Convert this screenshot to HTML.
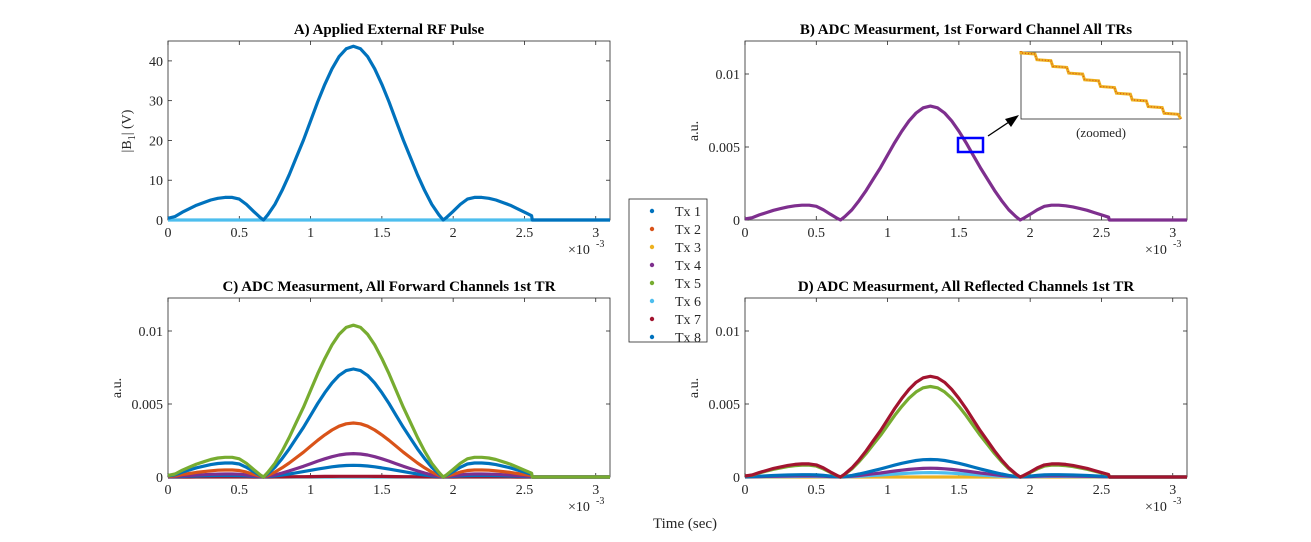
<!DOCTYPE html>
<html><head><meta charset="utf-8">
<style>
html,body{margin:0;padding:0;background:#fff;}
svg{display:block;font-family:"Liberation Serif",serif;}
</style></head>
<body>
<svg id="fig" width="1311" height="542" viewBox="0 0 1311 542" xmlns="http://www.w3.org/2000/svg"></svg>
<script>
// Pulse envelope sample times (ms) and normalized magnitude
const times = [0,0.05,0.1,0.15,0.2,0.25,0.3,0.35,0.4,0.45,0.5,0.55,0.6,0.65,0.67,0.7,0.75,0.8,0.85,0.9,0.95,1.0,1.05,1.1,1.15,1.2,1.25,1.3,1.35,1.4,1.45,1.5,1.55,1.6,1.65,1.7,1.75,1.8,1.85,1.9,1.93,1.95,2.0,2.05,2.1,2.15,2.2,2.25,2.3,2.35,2.4,2.45,2.5,2.55,2.555,3.1];
const shape = [0.01,0.02,0.045,0.065,0.085,0.10,0.115,0.125,0.13,0.13,0.12,0.09,0.05,0.012,0,0.03,0.09,0.17,0.26,0.36,0.46,0.57,0.68,0.78,0.87,0.94,0.985,1.0,0.985,0.94,0.87,0.78,0.68,0.57,0.46,0.36,0.26,0.17,0.09,0.03,0,0.012,0.05,0.09,0.12,0.13,0.13,0.125,0.115,0.10,0.085,0.065,0.045,0.025,0,0];
const colors = ["#0072BD","#D95319","#EDB120","#7E2F8E","#77AC30","#4DBEEE","#A2142F","#0072BD"];
const legendLabels = ["Tx 1","Tx 2","Tx 3","Tx 4","Tx 5","Tx 6","Tx 7","Tx 8"];
// Peak amplitudes per panel
const peakA = [43.7];
const peakB = [0.0078];
const channelsC = [2,5,6,7,3,1,0,4];
const peaksC = [0,0,0.00005,0.0008,0.0016,0.0037,0.0074,0.0104];
const channelsD = [2,5,3,0,4,6];
const peaksD = [0,0.0003,0.0006,0.0012,0.0062,0.0069];
const xTicks = [0,0.5,1,1.5,2,2.5,3];
const xTickLabels = ["0","0.5","1","1.5","2","2.5","3"];
const yTicksA = [0,10,20,30,40];
const yTicksB = [0,0.005,0.01];
const yTickLabelsB = ["0","0.005","0.01"];

const NS="http://www.w3.org/2000/svg";
const svg=document.getElementById('fig');
function mk(tag,attrs,parent){const e=document.createElementNS(NS,tag);for(const k in attrs)e.setAttribute(k,attrs[k]);(parent||svg).appendChild(e);return e;}
function txt(s,x,y,attrs,parent){const e=mk('text',Object.assign({x:x,y:y,'font-size':14,fill:'#262626'},attrs||{}),parent);e.textContent=s;return e;}

function panel(id,left,top,title,ymax,yticks,ylabels){
  const W=442,H=179,right=left+W,bottom=top+H;
  const g=mk('g',{});
  
  
  const sx=v=>left+v/3.1*W;
  const sy=v=>bottom-v/ymax*H;
  const box=mk('rect',{x:left,y:top,width:W,height:H,fill:'#fff',stroke:'#262626','stroke-width':0.8},g);
  
  
  xTicks.forEach((v,i)=>{
    mk('line',{x1:sx(v),x2:sx(v),y1:bottom,y2:bottom-4,stroke:'#262626','stroke-width':0.8},g);
    mk('line',{x1:sx(v),x2:sx(v),y1:top,y2:top+4,stroke:'#262626','stroke-width':0.8},g);
    const t=txt(xTickLabels[i],sx(v),bottom+17,{'text-anchor':'middle'},g);
    
    
  });
  const ex=txt('×10',right-42,bottom+34,{},g);
  
  
  txt('-3',right-14,bottom+27,{'font-size':10},g);
  yticks.forEach((v,i)=>{
    mk('line',{x1:left,x2:left+4,y1:sy(v),y2:sy(v),stroke:'#262626','stroke-width':0.8},g);
    mk('line',{x1:right,x2:right-4,y1:sy(v),y2:sy(v),stroke:'#262626','stroke-width':0.8},g);
    const t=txt(ylabels[i],left-5,sy(v)+5,{'text-anchor':'end'},g);
    
    
  });
  const tt=txt(title,left+W/2,top-7,{'text-anchor':'middle','font-weight':'bold','font-size':15,fill:'#000'},g);
  
  
  return {g,sx,sy,left,top,right,bottom};
}
function series(p,amp,color,name){
  const d=times.map((t,i)=>(i?'L':'M')+p.sx(t).toFixed(1)+','+p.sy(shape[i]*amp).toFixed(1)).join(' ');
  const path=mk('path',{d:d,fill:'none',stroke:color,'stroke-width':3.2,'stroke-linejoin':'round'},p.g);
  
  
}

// Panel A
const pA=panel('a',168,41,'A) Applied External RF Pulse',45,yTicksA,yTicksA.map(String));
series(pA,0,colors[5],'series-zero-line');
series(pA,peakA[0],colors[0],'series-b1-pulse');
(function(){const t=mk('text',{transform:'translate(131,131) rotate(-90)','text-anchor':'middle','font-size':14,fill:'#262626'});
 const a=mk('tspan',{},t);a.textContent='|B';const b=mk('tspan',{dy:4,'font-size':10},t);b.textContent='1';const c=mk('tspan',{dy:-4},t);c.textContent='| (V)';})();

// Panel B
const pB=panel('b',745,41,'B) ADC Measurment, 1st Forward Channel All TRs',0.01226,yTicksB,yTickLabelsB);
series(pB,peakB[0],colors[3],'series-forward-all-trs');
const ylb=txt('a.u.',0,0,{'text-anchor':'middle',transform:'translate(698,131) rotate(-90)'});


const zr=mk('rect',{x:958,y:138,width:25,height:14,fill:'none',stroke:'#0000ff','stroke-width':2.5});


const arr=mk('line',{x1:988,y1:136,x2:1012,y2:120,stroke:'#000','stroke-width':1.3});


mk('polygon',{points:'1019,115 1005,119 1011,127',fill:'#000'});
const ib=mk('rect',{x:1021,y:52,width:159,height:67,fill:'#fff',stroke:'#262626','stroke-width':0.8});


(function(){let d='M1021,51';const n=10;for(let i=0;i<n;i++){const x0=1021+i*15.9,y=53+i*6.7;d+=' L'+x0.toFixed(1)+','+y.toFixed(1)+' L'+(x0+14).toFixed(1)+','+(y+1).toFixed(1);}d+=' L1181,119';
 const s=mk('path',{d:d,fill:'none',stroke:'#EDB120','stroke-width':3});
 const s2=mk('path',{d:d,fill:'none',stroke:'#D95319','stroke-width':1.2,'stroke-dasharray':'1 2'});})();
const zl=txt('(zoomed)',1101,137,{'text-anchor':'middle','font-size':13});



// Panel C
const pC=panel('c',168,298,'C) ADC Measurment, All Forward Channels 1st TR',0.01226,yTicksB,yTickLabelsB);
channelsC.forEach((c,i)=>series(pC,peaksC[i],colors[c],'series-forward-tx'+(c+1)));
const ylc=txt('a.u.',0,0,{'text-anchor':'middle',transform:'translate(121,388) rotate(-90)'});



// Panel D
const pD=panel('d',745,298,'D) ADC Measurment, All Reflected Channels 1st TR',0.01226,yTicksB,yTickLabelsB);
channelsD.forEach((c,i)=>series(pD,peaksD[i],colors[c],'series-reflected-tx'+(c+1)));
const yld=txt('a.u.',0,0,{'text-anchor':'middle',transform:'translate(698,388) rotate(-90)'});



const xt=txt('Time (sec)',685,528,{'text-anchor':'middle','font-size':15});



// Legend
const lg=mk('g',{});


mk('rect',{x:629,y:199,width:78,height:143,fill:'#fff',stroke:'#262626','stroke-width':0.8},lg);
legendLabels.forEach((l,i)=>{
  const y=211+i*18;
  const e=mk('g',{},lg);
  
  
  mk('circle',{cx:652,cy:y,r:2.2,fill:colors[i]},e);
  txt(l,675,y+5,{'font-size':14},e);
});
</script>
</body></html>
